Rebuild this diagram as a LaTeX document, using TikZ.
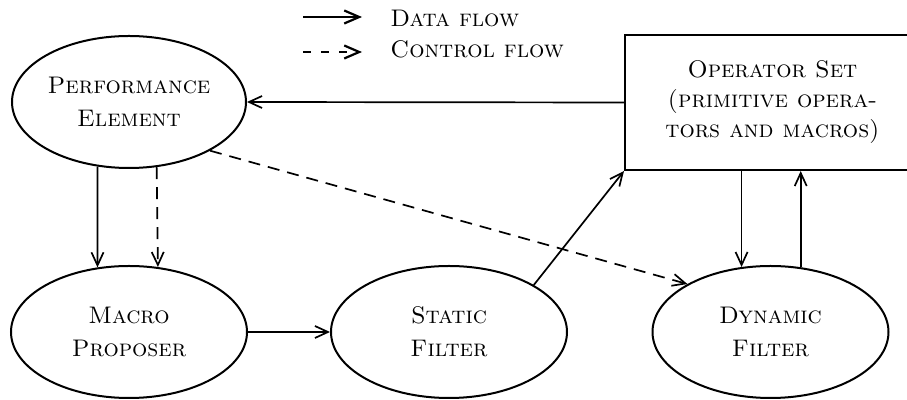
\documentclass[tikz,border=0pt]{standalone}
\usetikzlibrary{arrows.meta,shapes.geometric}
\begin{document}
\begin{tikzpicture}[x=0.5pt,y=-0.5pt,
  lbl/.style={font=\fontsize{12}{16.5}\selectfont\scshape, align=center},
  blob/.style={ellipse, draw, line width=1pt, inner sep=0pt, minimum width=118pt, minimum height=66pt, lbl},
  opbox/.style={rectangle, draw, line width=1pt, inner sep=0pt, minimum width=147.5pt, minimum height=67.5pt,
    font=\fontsize{12}{15}\selectfont\scshape, align=center},
  flow/.style={line width=0.85pt, -{Straight Barb[length=6.5pt,width=6pt]}},
  ctrl/.style={flow, dash pattern=on 6pt off 4pt},
  legarrow/.style={line width=1.1pt, -{Straight Barb[length=7.5pt,width=6.5pt]}},
]
\clip (0,0) rectangle (907,400);
% legend
\coordinate (ds) at (303,17);
\coordinate (de) at (362,17);
\coordinate (cs) at (303,52);
\coordinate (ce) at (362,52);
\draw[legarrow] (ds) -- (de);
\draw[legarrow, dash pattern=on 4pt off 5pt] (cs) -- (ce);
\node[lbl, anchor=base west, inner sep=0pt] (tdata) at (390,27) {Data flow};
\node[lbl, anchor=base west, inner sep=0pt] (tctrl) at (390,58) {Control flow};
% nodes
\node[blob, minimum width=117pt] (PE) at (129,102) {Performance\\Element};
\node[blob] (MP) at (129,332) {Macro\\Proposer};
\node[blob] (SF) at (449,332) {Static\\Filter};
\node[blob] (DF) at (770.5,332) {Dynamic\\Filter};
\node[opbox] (OS) at (772.5,102.5) {Operator Set\\(primitive opera-\\tors and macros)};
% connectors
\draw[flow] (OS.west) -- (PE.east);
\draw[flow] (PE.244) -- (MP.116);
\draw[ctrl] (PE.293.6) -- (MP.66.4);
\draw[flow] (MP.east) -- (SF.west);
\draw[flow] (SF.29.5) -- (OS.south west);
\draw[ctrl] (PE.329.2) -- (DF.150.6);
\draw[flow] (DF.114 |- OS.south) -- (DF.114);
\draw[flow] (DF.65.2) -- (DF.65.2 |- OS.south);
\end{tikzpicture}
\end{document}
